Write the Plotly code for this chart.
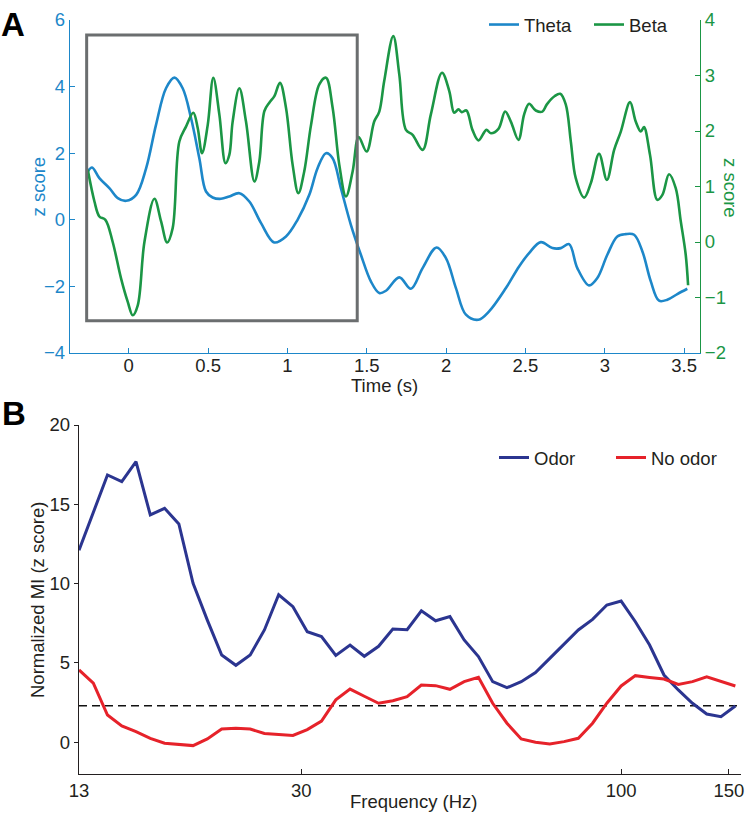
import plotly.graph_objects as go

# ---------------- Panel A data (time in s, z score) ----------------
theta_t = [-0.258, -0.231, -0.185, -0.122, -0.069, -0.016, 0.047, 0.11, 0.172, 0.235, 0.288, 0.34,
           0.393, 0.445, 0.487, 0.529, 0.582, 0.634, 0.697, 0.76, 0.834, 0.917, 0.991, 1.064,
           1.138, 1.19, 1.243, 1.285, 1.337, 1.40, 1.463, 1.526, 1.579, 1.621, 1.705, 1.778,
           1.852, 1.94, 1.999, 2.062, 2.125, 2.204, 2.271, 2.377, 2.46, 2.523, 2.597, 2.67,
           2.723, 2.775, 2.827, 2.901, 2.953, 3.016, 3.079, 3.132, 3.185, 3.237, 3.29, 3.342,
           3.394, 3.457, 3.52]
theta_z = [1.45, 1.57, 1.25, 0.95, 0.65, 0.57, 0.75, 1.55, 2.85, 3.95, 4.27, 3.95,
           3.05, 1.85, 0.85, 0.67, 0.63, 0.70, 0.80, 0.55, -0.10, -0.68, -0.50, 0.0,
           0.75, 1.55, 2.0, 1.85, 0.95, -0.15, -1.05, -1.85, -2.2, -2.13, -1.73, -2.07,
           -1.45, -0.83, -1.15, -2.05, -2.85, -3.0, -2.75, -2.05, -1.4, -1.0, -0.67, -0.85,
           -0.85, -0.73, -1.45, -1.97, -1.75, -1.05, -0.50, -0.43, -0.45, -0.95, -1.85, -2.43,
           -2.40, -2.23, -2.07]

beta_t = [-0.258, -0.216, -0.185, -0.147, -0.101, -0.048, -0.006, 0.025, 0.057, 0.099, 0.162, 0.204,
          0.242, 0.277, 0.319, 0.361, 0.407, 0.435, 0.462, 0.498, 0.533, 0.571, 0.61, 0.634,
          0.655, 0.697, 0.739, 0.792, 0.823, 0.855, 0.886, 0.918, 0.953, 0.991, 1.033, 1.069,
          1.106, 1.149, 1.201, 1.243, 1.285, 1.327, 1.369, 1.411, 1.449, 1.499, 1.547, 1.579,
          1.61, 1.667, 1.705, 1.747, 1.789, 1.852, 1.904, 1.974, 2.02, 2.051, 2.078, 2.099,
          2.128, 2.166, 2.204, 2.254, 2.282, 2.33, 2.372, 2.408, 2.456, 2.492, 2.523, 2.565,
          2.607, 2.635, 2.685, 2.719, 2.754, 2.786, 2.817, 2.87, 2.912, 2.964, 3.013, 3.059,
          3.101, 3.159, 3.195, 3.227, 3.247, 3.285, 3.331, 3.363, 3.405, 3.447, 3.479, 3.51,
          3.525]
beta_z = [1.30, 0.73, 0.46, 0.40, 0.0, -0.66, -1.08, -1.32, -1.14, 0.0, 0.78, 0.37,
          -0.01, 0.25, 1.81, 2.08, 2.33, 2.05, 1.60, 2.11, 2.96, 2.30, 1.42, 1.57,
          2.17, 2.77, 2.17, 1.09, 1.45, 2.36, 2.51, 2.63, 2.87, 2.42, 1.39, 0.88,
          1.27, 2.11, 2.84, 2.96, 2.42, 1.39, 0.82, 1.27, 1.89, 1.63, 2.17, 2.35,
          2.90, 3.71, 3.02, 2.02, 1.93, 1.66, 2.30, 3.05, 2.72, 2.33, 2.39, 2.34,
          2.37, 2.02, 1.83, 2.02, 1.96, 2.04, 2.35, 2.17, 1.84, 2.30, 2.49, 2.37,
          2.35, 2.48, 2.63, 2.67, 2.48, 1.81, 1.15, 0.80, 1.06, 1.59, 1.12, 1.66,
          1.99, 2.52, 2.17, 1.99, 2.07, 1.57, 0.76, 0.85, 1.22, 0.97, 0.37, -0.23,
          -0.78]

window_t = [-0.265, 1.44]      # analysis window (s)
window_z = [-3.03, 5.55]       # on theta z-score axis

time_ticks = [0, 0.5, 1, 1.5, 2, 2.5, 3, 3.5]
theta_ticks = [-4, -2, 0, 2, 4, 6]
beta_ticks = [-2, -1, 0, 1, 2, 3, 4]

# ---------------- Panel B data (frequency in Hz, normalized MI) ----------------
freq_hz = [13.00, 13.72, 14.47, 15.27, 16.11, 17.00, 17.94, 18.93, 19.97, 21.07,
           22.24, 23.46, 24.76, 26.12, 27.56, 29.08, 30.69, 32.38, 34.17, 36.05,
           38.04, 40.14, 42.35, 44.69, 47.15, 49.75, 52.50, 55.39, 58.45, 61.67,
           65.07, 68.66, 72.45, 76.45, 80.66, 85.11, 89.81, 94.76, 100.0, 105.5,
           111.3, 117.5, 124.0, 130.8, 138.0, 145.6, 153.7]
odor_mi = [12.1, 14.5, 16.85, 16.43, 17.69, 14.33, 14.75, 13.76, 10.02, 7.7,
           5.5, 4.85, 5.5, 7.08, 9.3, 8.55, 6.97, 6.66, 5.48, 6.13,
           5.42, 6.05, 7.14, 7.1, 8.29, 7.66, 7.92, 6.45, 5.40, 3.82,
           3.44, 3.82, 4.39, 5.29, 6.2, 7.08, 7.75, 8.65, 8.90, 7.60,
           6.13, 4.24, 3.30, 2.46, 1.78, 1.61, 2.29]
no_odor_mi = [4.56, 3.72, 1.72, 1.03, 0.67, 0.25, -0.06, -0.13, -0.21, 0.21,
              0.84, 0.88, 0.83, 0.55, 0.48, 0.43, 0.80, 1.34, 2.67, 3.35,
              2.90, 2.46, 2.62, 2.87, 3.61, 3.57, 3.34, 3.82, 4.09, 2.46,
              1.20, 0.21, 0.0, -0.11, 0.04, 0.25, 1.20, 2.46, 3.55, 4.20,
              4.09, 3.99, 3.65, 3.82, 4.13, 3.86, 3.55]
threshold = 2.3

freq_ticks = [13, 30, 100, 150]
mi_ticks = [0, 5, 10, 15, 20]

# ---------------- Styling ----------------
W, H = 750, 818
FONT = "Liberation Sans, Arial, Helvetica, sans-serif"
BLUE = "#1d87c9"
GREEN = "#1b9645"
NAVY = "#2b3590"
RED = "#e6222a"
GRAY = "#6b6e6f"
INK = "#231f20"
FS = 18.5


def px_x(p):
    return p / W


def px_y(p):
    return 1 - p / H


fig = go.Figure()

fig.add_trace(go.Scatter(x=theta_t, y=theta_z, name="Theta", mode="lines",
                         line=dict(color=BLUE, width=2.6, shape="spline", smoothing=1.0),
                         xaxis="x", yaxis="y", legend="legend"))
fig.add_trace(go.Scatter(x=beta_t, y=beta_z, name="Beta", mode="lines",
                         line=dict(color=GREEN, width=2.6, shape="spline", smoothing=1.0),
                         xaxis="x", yaxis="y2", legend="legend"))
fig.add_trace(go.Scatter(x=freq_hz, y=odor_mi, name="Odor", mode="lines",
                         line=dict(color=NAVY, width=3),
                         xaxis="x2", yaxis="y3", legend="legend2"))
fig.add_trace(go.Scatter(x=freq_hz, y=no_odor_mi, name="No odor", mode="lines",
                         line=dict(color=RED, width=3),
                         xaxis="x2", yaxis="y3", legend="legend2"))

top_dom_x = [px_x(70), px_x(700)]
top_dom_y = [px_y(353), px_y(20)]
bot_dom_x = [px_x(79), px_x(741)]
bot_dom_y = [px_y(774), px_y(425)]

fig.update_layout(
    width=W, height=H,
    margin=dict(l=0, r=0, t=0, b=0, autoexpand=False),
    paper_bgcolor="white", plot_bgcolor="white",
    font=dict(family=FONT, size=FS, color=INK),
    xaxis=dict(domain=top_dom_x, anchor="y", range=[-0.37, 3.6],
               tickvals=time_ticks, ticks="inside", ticklen=5, tickcolor=BLUE,
               ticklabelstandoff=-4,
               showline=True, linecolor=BLUE, linewidth=1.3,
               showgrid=False, zeroline=False,
               tickfont=dict(size=FS, color=INK)),
    yaxis=dict(domain=top_dom_y, anchor="x", range=[-4, 6],
               tickvals=theta_ticks, ticks="inside", ticklen=5, tickcolor=BLUE,
               showline=True, linecolor=BLUE, linewidth=1.3,
               showgrid=False, zeroline=False,
               tickfont=dict(size=FS, color=BLUE)),
    yaxis2=dict(overlaying="y", side="right", anchor="x", range=[-2, 4],
                tickvals=beta_ticks, ticks="inside", ticklen=5, tickcolor=GREEN,
                showline=True, linecolor=GREEN, linewidth=1.3,
                showgrid=False, zeroline=False,
                tickfont=dict(size=FS, color=GREEN)),
    xaxis2=dict(domain=bot_dom_x, anchor="y3", type="log",
                range=[1.11394, 2.1959],
                tickvals=freq_ticks, ticktext=[str(v) for v in freq_ticks],
                ticks="inside", ticklen=5, tickcolor=INK,
                showline=True, linecolor=INK, linewidth=1.3,
                showgrid=False, zeroline=False,
                tickfont=dict(size=FS, color=INK)),
    yaxis3=dict(domain=bot_dom_y, anchor="x2", range=[-2, 20],
                tickvals=mi_ticks, ticks="outside", ticklen=4, tickcolor=INK,
                showline=True, linecolor=INK, linewidth=1.3,
                showgrid=False, zeroline=False,
                tickfont=dict(size=FS, color=INK)),
    legend=dict(orientation="h", x=px_x(484), xanchor="left",
                y=px_y(25), yanchor="middle",
                bgcolor="rgba(0,0,0,0)", borderwidth=0,
                entrywidthmode="pixels", entrywidth=60,
                font=dict(size=FS, color=INK), itemclick=False),
    legend2=dict(orientation="h", x=px_x(494), xanchor="left",
                 y=px_y(458), yanchor="middle",
                 bgcolor="rgba(0,0,0,0)", borderwidth=0,
                 entrywidthmode="pixels", entrywidth=72,
                 font=dict(size=FS, color=INK), itemclick=False),
    showlegend=True,
)

# analysis-window box and significance threshold
fig.add_shape(type="rect", xref="x", yref="y",
              x0=window_t[0], x1=window_t[1], y0=window_z[0], y1=window_z[1],
              line=dict(color=GRAY, width=3), fillcolor="rgba(0,0,0,0)", layer="above")
fig.add_shape(type="line", xref="x2 domain", yref="y3", x0=0, x1=1,
              y0=threshold, y1=threshold,
              line=dict(color="#111111", width=1.6, dash="8px,5px"), layer="below")

annots = [
    dict(text="<b>A</b>", x=px_x(-1), y=px_y(24), xanchor="left", yanchor="middle",
         font=dict(size=33, color="#000000")),
    dict(text="<b>B</b>", x=px_x(0), y=px_y(413), xanchor="left", yanchor="middle",
         font=dict(size=33, color="#000000")),
    dict(text="z score", x=px_x(37.5), y=px_y(187), textangle=-90,
         xanchor="center", yanchor="middle", font=dict(size=FS, color=BLUE)),
    dict(text="z score", x=px_x(731), y=px_y(188), textangle=90,
         xanchor="center", yanchor="middle", font=dict(size=FS, color=GREEN)),
    dict(text="Time (s)", x=px_x(384), y=px_y(385),
         xanchor="center", yanchor="middle", font=dict(size=FS, color=INK)),
    dict(text="Normalized MI (z score)", x=px_x(37), y=px_y(600), textangle=-90,
         xanchor="center", yanchor="middle", font=dict(size=FS, color=INK)),
    dict(text="Frequency (Hz)", x=px_x(413), y=px_y(801),
         xanchor="center", yanchor="middle", font=dict(size=FS, color=INK)),
]
for a in annots:
    fig.add_annotation(xref="paper", yref="paper", showarrow=False, **a)

# the page body has a default 8px margin; remove it so the figure sits at (0, 0)
fig.write_html(
    "out.html",
    config={"displayModeBar": False},
    post_script="document.body.style.margin='0';document.body.style.padding='0';"
                "document.body.style.overflow='hidden';",
)
